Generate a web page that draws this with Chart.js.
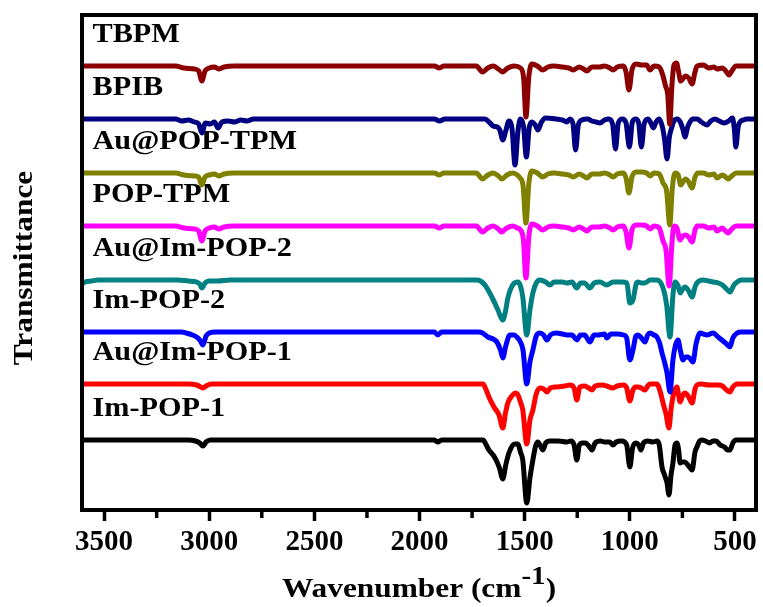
<!DOCTYPE html>
<html>
<head>
<meta charset="utf-8">
<script src="https://cdn.jsdelivr.net/npm/chart.js@4.4.1/dist/chart.umd.min.js"></script>
<style>
  html, body { margin: 0; padding: 0; background: #fff; }
</style>
</head>
<body>
<canvas id="chart" width="763" height="607"></canvas>
<script>
// wavenumber axis (cm-1), reversed like a normal FTIR plot
const wavenumberRange = [400, 3605]
const majorTicks = [3500, 3000, 2500, 2000, 1500, 1000, 500]
const minorTicks = [3250, 2750, 2250, 1750, 1250, 750]

const seriesNames = ['TBPM', 'BPIB', 'Au@POP-TPM', 'POP-TPM', 'Au@Im-POP-2', 'Im-POP-2', 'Au@Im-POP-1', 'Im-POP-1']
const seriesColors = ['#8b0000', '#000080', '#808000', '#ff00ff', '#008080', '#0000ff', '#ff0000', '#000000']
// vertical offset of each trace (stacked display, arbitrary units)
const baselineOffsets = [444, 391, 337, 284, 230, 178, 126, 70]

// each spectrum: [wavenumber, band depth below its baseline]
const tbpm = [[3605,0],[3160,0],[3120,2],[3070,3],[3050,5],[3035,15],[3020,5],[3000,2],[2975,1],[2955,3],[2930,1],[2880,0],[1930,0],[1905,2],[1885,0],[1730,0],[1700,6],[1675,2],[1650,0],[1625,3],[1605,6],[1580,2],[1550,0],[1520,2],[1505,12],[1494,51],[1480,10],[1465,-2],[1440,0],[1415,4],[1390,1],[1360,0],[1320,1],[1290,2],[1270,4],[1240,1],[1220,3],[1205,5],[1180,1],[1145,1],[1120,0],[1095,2],[1080,4],[1060,1],[1030,0],[1018,6],[1004,24],[990,4],[970,-2],[945,-1],[920,-1],[904,4],[885,0],[860,1],[845,8],[830,20],[820,28],[810,58],[800,20],[790,-1],[778,-3],[768,6],[758,15],[745,12],[735,10],[720,12],[704,18],[690,6],[680,0],[650,-1],[625,2],[600,1],[585,3],[560,2],[540,6],[528,9],[515,5],[495,0],[400,0]]
const bpib = [[3605,0],[3160,0],[3130,2],[3100,1],[3070,3],[3050,5],[3035,14],[3018,4],[2995,5],[2975,3],[2958,9],[2940,3],[2910,2],[2880,3],[2850,1],[2820,2],[2790,0],[1930,0],[1905,2],[1880,0],[1690,0],[1665,4],[1650,7],[1630,8],[1618,11],[1604,21],[1590,12],[1575,2],[1560,10],[1546,46],[1532,12],[1520,0],[1505,8],[1492,38],[1478,8],[1465,3],[1450,6],[1437,11],[1420,3],[1400,-1],[1350,0],[1320,1],[1300,3],[1285,0],[1270,5],[1258,31],[1245,6],[1228,1],[1200,0],[1180,2],[1160,3],[1142,4],[1120,1],[1100,0],[1082,5],[1068,30],[1055,4],[1035,0],[1018,4],[1002,28],[988,3],[972,0],[958,4],[945,28],[932,5],[914,0],[900,4],[888,9],[875,3],[860,0],[845,8],[835,20],[823,40],[812,18],[800,8],[790,2],[776,0],[760,3],[748,10],[738,18],[725,8],[714,3],[700,0],[680,0],[660,3],[633,6],[615,2],[595,0],[575,2],[550,4],[530,2],[512,-1],[503,10],[496,28],[485,8],[476,3],[460,1],[443,0],[400,0]]
const auPopTpm = [[3605,0],[3160,0],[3120,2],[3070,3],[3050,4],[3035,12],[3020,4],[3000,2],[2975,1],[2955,3],[2930,1],[2880,0],[1930,0],[1905,2],[1885,0],[1730,0],[1700,6],[1675,2],[1650,0],[1625,3],[1608,6],[1585,2],[1556,0],[1535,2],[1522,5],[1508,12],[1494,50],[1480,10],[1465,-2],[1440,0],[1415,4],[1390,1],[1360,0],[1320,1],[1290,2],[1270,4],[1240,1],[1220,3],[1205,5],[1180,1],[1145,1],[1120,0],[1095,2],[1080,4],[1060,1],[1030,0],[1018,5],[1004,20],[990,4],[970,-1],[945,-1],[920,0],[904,3],[885,0],[860,1],[842,10],[825,18],[810,52],[798,15],[785,0],[770,2],[758,12],[745,8],[735,6],[720,9],[704,15],[690,4],[676,0],[650,0],[625,2],[600,1],[586,5],[560,2],[545,4],[533,6],[515,3],[495,0],[400,0]]
const popTpm = [[3605,0],[3160,0],[3120,2],[3070,3],[3050,5],[3035,15],[3020,5],[3000,2],[2975,1],[2955,3],[2930,1],[2880,0],[1930,0],[1905,2],[1885,0],[1730,0],[1700,6],[1675,2],[1650,0],[1625,3],[1610,6],[1585,2],[1556,0],[1535,2],[1520,4],[1506,14],[1494,52],[1480,10],[1465,-2],[1440,0],[1415,4],[1390,1],[1360,0],[1320,1],[1290,2],[1270,4],[1240,1],[1220,3],[1205,5],[1180,1],[1145,1],[1120,0],[1095,2],[1080,4],[1060,1],[1030,0],[1018,6],[1004,22],[990,4],[970,-1],[945,-1],[920,0],[904,3],[885,0],[860,2],[842,15],[828,24],[813,60],[800,18],[790,0],[776,2],[761,14],[748,10],[735,9],[720,11],[704,16],[690,4],[680,0],[650,0],[625,2],[600,1],[586,5],[560,2],[545,5],[533,7],[515,3],[495,0],[400,0]]
const auImPop2 = [[3605,4],[3590,2],[3560,1],[3530,0],[3150,0],[3100,1],[3060,2],[3045,4],[3035,8],[3020,3],[3000,1],[2960,1],[2900,0],[1730,0],[1710,1],[1689,5],[1656,17],[1627,30],[1604,40],[1590,30],[1580,18],[1557,5],[1532,2],[1520,6],[1509,17],[1490,55],[1475,30],[1461,13],[1445,3],[1428,0],[1400,2],[1380,5],[1360,2],[1320,2],[1300,3],[1275,2],[1252,8],[1235,3],[1215,3],[1190,8],[1170,3],[1142,2],[1110,5],[1080,2],[1040,2],[1014,3],[1000,23],[985,20],[970,4],[961,2],[945,3],[928,3],[904,0],[871,0],[842,8],[825,25],[809,57],[795,15],[785,2],[770,6],[761,13],[748,9],[738,7],[720,11],[704,17],[690,7],[681,3],[652,0],[625,1],[604,2],[580,3],[560,5],[540,9],[524,12],[505,5],[490,2],[470,0],[400,0]]
const imPop2 = [[3605,0],[3130,0],[3110,1],[3080,3],[3060,5],[3045,8],[3030,13],[3015,4],[3000,1],[2970,0],[1930,0],[1913,3],[1895,0],[1720,0],[1700,1],[1675,5],[1650,7],[1632,10],[1615,18],[1604,26],[1590,14],[1570,3],[1550,3],[1537,5],[1520,10],[1508,18],[1490,52],[1475,30],[1461,18],[1445,4],[1428,1],[1410,3],[1394,8],[1378,3],[1350,1],[1320,2],[1300,3],[1275,3],[1252,8],[1235,3],[1215,3],[1190,10],[1170,3],[1150,3],[1120,2],[1110,6],[1090,2],[1060,2],[1030,3],[1015,6],[1000,28],[985,18],[971,4],[961,3],[945,6],[928,10],[915,3],[904,1],[885,3],[871,5],[857,12],[847,21],[835,30],[823,41],[809,60],[795,28],[785,15],[771,8],[760,18],[747,28],[735,25],[724,25],[712,27],[700,30],[685,12],[666,1],[650,2],[633,3],[604,1],[580,5],[562,8],[540,12],[524,15],[510,6],[490,1],[470,0],[400,0]]
const auImPop1 = [[3605,0],[3100,0],[3060,1],[3040,3],[3030,4],[3015,2],[2990,0],[1730,0],[1698,0],[1685,5],[1670,13],[1646,23],[1622,31],[1604,44],[1592,30],[1580,19],[1557,11],[1545,9],[1532,11],[1520,18],[1509,26],[1490,60],[1475,36],[1461,26],[1445,10],[1428,4],[1410,5],[1394,8],[1378,4],[1350,3],[1310,2],[1285,1],[1265,4],[1252,16],[1238,3],[1215,2],[1195,4],[1180,6],[1165,2],[1130,1],[1110,2],[1080,4],[1060,2],[1030,1],[1015,4],[1000,17],[985,6],[971,3],[961,3],[945,4],[928,6],[915,2],[904,0],[871,0],[855,8],[842,19],[828,30],[814,44],[804,25],[795,13],[786,6],[776,3],[761,18],[748,11],[738,9],[720,13],[704,19],[690,5],[681,1],[660,0],[625,1],[580,1],[560,2],[540,6],[524,8],[510,3],[490,0],[400,0]]
const imPop1 = [[3605,0],[3100,0],[3065,1],[3045,3],[3030,6],[3015,2],[2995,0],[1930,0],[1913,2],[1895,0],[1730,0],[1698,0],[1685,4],[1670,10],[1650,15],[1636,20],[1620,28],[1604,39],[1590,25],[1575,13],[1556,5],[1545,4],[1532,4],[1520,12],[1509,20],[1490,63],[1475,38],[1461,20],[1448,6],[1437,2],[1425,6],[1413,10],[1400,3],[1380,1],[1340,1],[1300,2],[1280,1],[1265,5],[1252,20],[1240,5],[1225,3],[1210,3],[1195,6],[1180,10],[1165,3],[1140,1],[1120,2],[1095,2],[1080,5],[1065,2],[1040,1],[1015,5],[1000,27],[987,8],[971,3],[958,5],[947,10],[935,3],[915,1],[890,2],[871,1],[860,5],[847,27],[835,35],[823,43],[814,55],[804,35],[795,23],[785,5],[776,3],[768,10],[761,23],[750,22],[738,22],[720,26],[704,30],[690,12],[681,7],[668,1],[657,0],[640,1],[620,3],[605,1],[590,1],[570,5],[550,7],[535,10],[524,10],[510,3],[495,0],[400,0]]

const spectra = [tbpm, bpib, auPopTpm, popTpm, auImPop2, imPop2, auImPop1, imPop1]

const labelWavenumber = 3555
const labelLift = 31
const serif = '"Liberation Serif", "Times New Roman", serif'
const stretch = 1.12

const stretchText = (ctx, text, x, y, align) => {
  ctx.save()
  ctx.translate(x, y)
  ctx.scale(stretch, 1)
  ctx.textAlign = align
  ctx.fillText(text, 0, 0)
  ctx.restore()
}

const ftirDecor = {
  id: 'ftirDecor',
  beforeDatasetsDraw(chart) {
    const { ctx, scales: { x, y } } = chart
    ctx.save()
    ctx.fillStyle = '#000'
    ctx.textBaseline = 'middle'
    ctx.font = 'bold 27px ' + serif
    seriesNames.forEach((name, i) => {
      stretchText(ctx, name, x.getPixelForValue(labelWavenumber), y.getPixelForValue(baselineOffsets[i] + labelLift), 'left')
    })
    ctx.restore()
  },
  afterDraw(chart) {
    const { ctx, chartArea: area, scales: { x } } = chart
    ctx.save()
    // frame
    ctx.strokeStyle = '#000'
    ctx.lineWidth = 4
    ctx.strokeRect(area.left, area.top, area.right - area.left, area.bottom - area.top)
    // minor ticks
    ctx.lineWidth = 3.5
    minorTicks.forEach(v => {
      const px = x.getPixelForValue(v)
      ctx.beginPath()
      ctx.moveTo(px, area.bottom)
      ctx.lineTo(px, area.bottom + 8)
      ctx.stroke()
    })
    // axis titles
    ctx.fillStyle = '#000'
    ctx.textBaseline = 'alphabetic'
    ctx.font = 'bold 28px ' + serif
    const main = 'Wavenumber (cm'
    const mainW = ctx.measureText(main).width * stretch
    const closeW = ctx.measureText(')').width * stretch
    ctx.font = 'bold 26px ' + serif
    const supW = ctx.measureText('-1').width * stretch
    const startX = 419 - (mainW + supW + closeW) / 2
    ctx.font = 'bold 28px ' + serif
    stretchText(ctx, main, startX, 597, 'left')
    stretchText(ctx, ')', startX + mainW + supW, 597, 'left')
    ctx.font = 'bold 26px ' + serif
    stretchText(ctx, '-1', startX + mainW, 584, 'left')

    ctx.font = 'bold 28px ' + serif
    ctx.textBaseline = 'middle'
    ctx.translate(25, 268)
    ctx.rotate(-Math.PI / 2)
    stretchText(ctx, 'Transmittance', 0, 0, 'center')
    ctx.restore()
  }
}

new Chart(document.getElementById('chart').getContext('2d'), {
  type: 'line',
  data: {
    datasets: spectra.map((s, i) => ({
      label: seriesNames[i],
      data: s.map(([wn, depth]) => ({ x: wn, y: baselineOffsets[i] - depth })),
      borderColor: seriesColors[i],
      borderWidth: 5,
      pointRadius: 0,
      cubicInterpolationMode: 'monotone',
      borderJoinStyle: 'round',
      borderCapStyle: 'round',
      fill: false
    }))
  },
  options: {
    responsive: false,
    animation: false,
    layout: { padding: { top: 15, right: 7, left: 0, bottom: 0 } },
    plugins: { legend: { display: false }, tooltip: { enabled: false } },
    scales: {
      x: {
        type: 'linear',
        reverse: true,
        min: wavenumberRange[0],
        max: wavenumberRange[1],
        afterFit: s => { s.height = 97 },
        afterBuildTicks: s => { s.ticks = majorTicks.map(v => ({ value: v })) },
        grid: { drawOnChartArea: false, drawTicks: true, tickLength: 11, tickColor: '#000', tickWidth: 3.5 },
        border: { display: false },
        ticks: {
          color: '#000',
          padding: 4,
          maxRotation: 0,
          autoSkip: false,
          callback: v => String(v),
          font: { family: serif, weight: 'bold', size: 29 }
        }
      },
      y: {
        min: 0,
        max: 495,
        afterFit: s => { s.width = 82 },
        ticks: { display: false },
        grid: { display: false },
        border: { display: false }
      }
    }
  },
  plugins: [ftirDecor]
})
</script>
</body>
</html>
